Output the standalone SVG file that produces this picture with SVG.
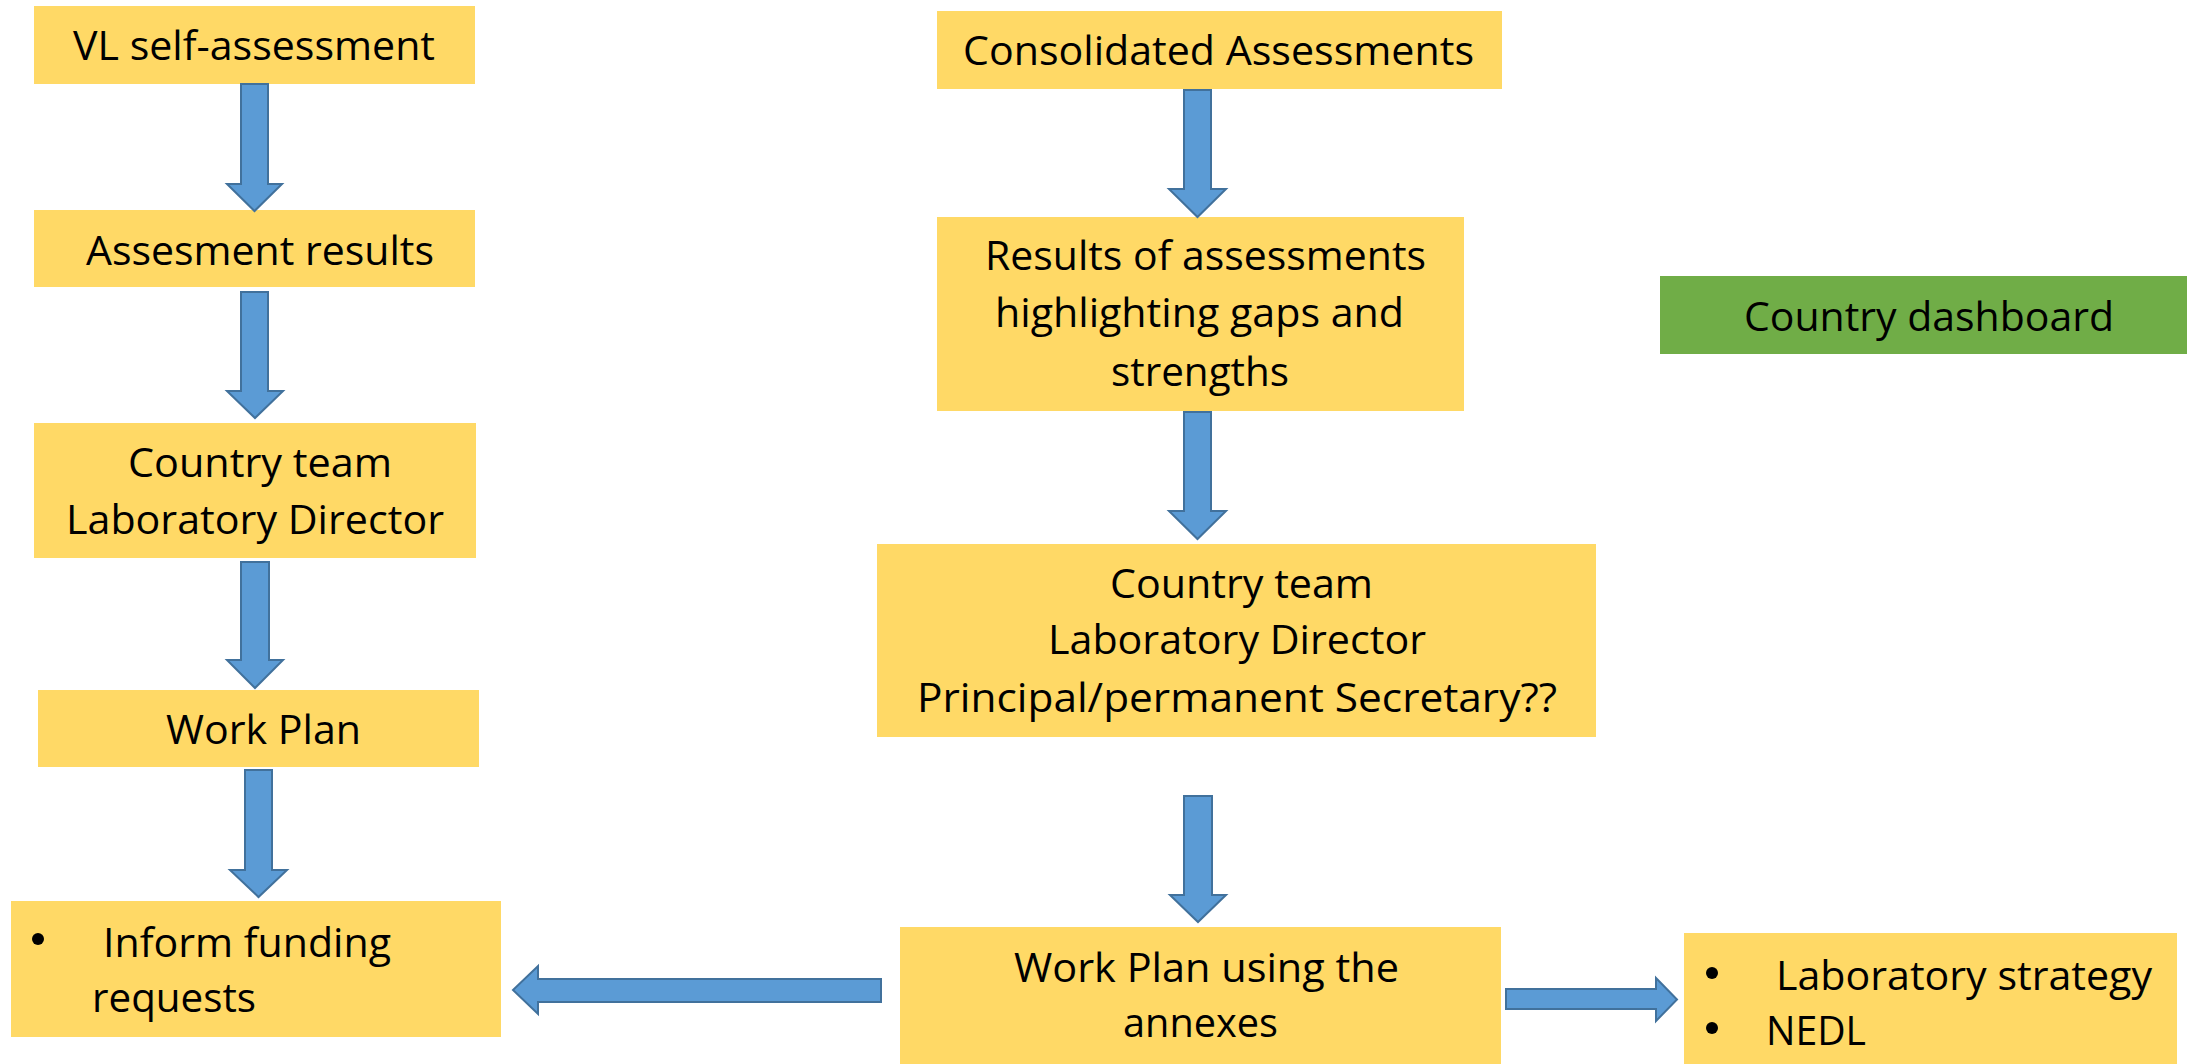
<svg xmlns="http://www.w3.org/2000/svg" width="2187" height="1064" viewBox="0 0 2187 1064">
<style>
.box{fill:#FFD966}
.green{fill:#70AD47}
.arr{fill:#5B9BD5;stroke:#41719C;stroke-width:2;stroke-linejoin:miter}
.dot{fill:#000}
text{font-family:"Open Sans","Liberation Sans",sans-serif;font-size:40px;fill:#000}
</style>
<rect width="2187" height="1064" fill="#ffffff"/>
<g id="n-vl-self-assessment">
<rect class="box" x="34" y="6" width="441" height="78"/>
<text x="73" y="60" textLength="362" lengthAdjust="spacingAndGlyphs">VL self-assessment</text>
</g>
<g id="n-assesment-results">
<rect class="box" x="34" y="210" width="441" height="77"/>
<text x="86" y="265" textLength="348" lengthAdjust="spacingAndGlyphs">Assesment results</text>
</g>
<g id="n-country-team-left">
<rect class="box" x="34" y="423" width="442" height="135"/>
<text x="128" y="477" textLength="264" lengthAdjust="spacingAndGlyphs">Country team</text>
<text x="66" y="534" textLength="378" lengthAdjust="spacingAndGlyphs">Laboratory Director</text>
</g>
<g id="n-work-plan-left">
<rect class="box" x="38" y="690" width="441" height="77"/>
<text x="166" y="744" textLength="195" lengthAdjust="spacingAndGlyphs">Work Plan</text>
</g>
<g id="n-inform-funding">
<rect class="box" x="11" y="901" width="490" height="136"/>
<circle class="dot" cx="38" cy="939" r="6"/>
<text x="103" y="957" textLength="288" lengthAdjust="spacingAndGlyphs">Inform funding</text>
<text x="92" y="1012" textLength="164" lengthAdjust="spacingAndGlyphs">requests</text>
</g>
<g id="n-consolidated">
<rect class="box" x="937" y="11" width="565" height="78"/>
<text x="963" y="65" textLength="511" lengthAdjust="spacingAndGlyphs">Consolidated Assessments</text>
</g>
<g id="n-results">
<rect class="box" x="937" y="217" width="527" height="194"/>
<text x="985" y="270" textLength="441" lengthAdjust="spacingAndGlyphs">Results of assessments</text>
<text x="995" y="327" textLength="409" lengthAdjust="spacingAndGlyphs">highlighting gaps and</text>
<text x="1111" y="386" textLength="178" lengthAdjust="spacingAndGlyphs">strengths</text>
</g>
<g id="n-country-team-right">
<rect class="box" x="877" y="544" width="719" height="193"/>
<text x="1110" y="598" textLength="263" lengthAdjust="spacingAndGlyphs">Country team</text>
<text x="1048" y="654" textLength="378" lengthAdjust="spacingAndGlyphs">Laboratory Director</text>
<text x="917" y="712" textLength="640" lengthAdjust="spacingAndGlyphs">Principal/permanent Secretary??</text>
</g>
<g id="n-work-plan-annexes">
<rect class="box" x="900" y="927" width="601" height="137"/>
<text x="1014" y="982" textLength="385" lengthAdjust="spacingAndGlyphs">Work Plan using the</text>
<text x="1123" y="1037" textLength="155" lengthAdjust="spacingAndGlyphs">annexes</text>
</g>
<g id="n-lab-strategy">
<rect class="box" x="1684" y="933" width="493" height="131"/>
<circle class="dot" cx="1712" cy="973" r="6"/>
<circle class="dot" cx="1712" cy="1028" r="6"/>
<text x="1776" y="990" textLength="376" lengthAdjust="spacingAndGlyphs">Laboratory strategy</text>
<text x="1766" y="1045" textLength="100" lengthAdjust="spacingAndGlyphs">NEDL</text>
</g>
<g id="n-country-dashboard">
<rect class="green" x="1660" y="276" width="527" height="78"/>
<text x="1744" y="331" textLength="370" lengthAdjust="spacingAndGlyphs">Country dashboard</text>
</g>
<g id="connectors">
<polygon class="arr" points="241,84 268,84 268,184 282,184 254.5,211 227,184 241,184"/>
<polygon class="arr" points="241,292 268,292 268,391 283,391 255,418 227,391 241,391"/>
<polygon class="arr" points="241,562 269,562 269,660 283,660 255,688 227,660 241,660"/>
<polygon class="arr" points="245,770 272,770 272,870 287,870 258.5,897 230,870 245,870"/>
<polygon class="arr" points="1184,90 1211,90 1211,189 1226,189 1197.5,217 1169,189 1184,189"/>
<polygon class="arr" points="1184,412 1211,412 1211,511 1226,511 1197.5,539 1169,511 1184,511"/>
<polygon class="arr" points="1184,796 1212,796 1212,895 1226,895 1198,922 1170,895 1184,895"/>
<polygon class="arr" points="881,979 881,1002 538,1002 538,1014 513,990 538,966 538,979"/>
<polygon class="arr" points="1506,989 1656,989 1656,978 1677,999.5 1656,1021 1656,1009 1506,1009"/>
</g>
</svg>
